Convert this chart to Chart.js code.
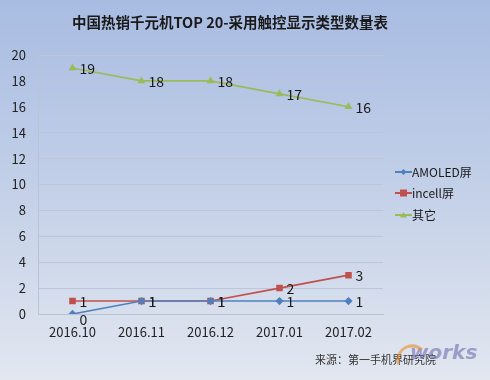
<!DOCTYPE html>
<html><head><meta charset="utf-8">
<script src="https://cdn.jsdelivr.net/npm/chart.js@4/dist/chart.umd.min.js"></script>
<style>
html,body{margin:0;padding:0;}
#wrap{width:490px;height:380px;background:linear-gradient(to bottom,#a8bce2 0%,#c3d0e8 50%,#e2e7f0 100%);position:relative;}
canvas{display:block;}
</style></head><body>
<div id="wrap"><canvas id="c" width="490" height="380"></canvas></div>
<script>
const categories = ['2016.10','2016.11','2016.12','2017.01','2017.02'];
const amoled = [0,1,1,1,1];
const incell = [1,1,1,2,3];
const others = [19,18,18,17,16];
const seriesNames = ['AMOLED屏','incell屏','其它'];
const yTicks = [0,2,4,6,8,10,12,14,16,18,20];
const titleText = '中国热销千元机TOP 20-采用触控显示类型数量表';
const sourceText = '来源：第一手机界研究院';
const FONT = '"Noto Sans CJK SC", "Noto Sans", sans-serif';

const labelPlugin = {
  id:'labels',
  afterDatasetsDraw(chart){
    const ctx = chart.ctx;
    ctx.save();
    // title
    ctx.font = 'bold 14.5px ' + FONT;
    ctx.fillStyle = '#1a1a1a';
    ctx.textAlign = 'center';
    ctx.textBaseline = 'middle';
    ctx.fillText(titleText, 230, 22);
    // data labels
    ctx.font = '14px ' + FONT;
    ctx.textAlign = 'left';
    chart.data.datasets.forEach((ds,i)=>{
      const meta = chart.getDatasetMeta(i);
      meta.data.forEach((pt,j)=>{
        let dy = 1;
        if (ds.data[j] === 0) dy = 6;
        ctx.fillText(String(ds.data[j]), pt.x + 7, pt.y + dy);
      });
    });
    // legend
    const lx = 395, ly = [172,193,215];
    chart.data.datasets.forEach((ds,i)=>{
      const y = ly[i];
      ctx.strokeStyle = ds.borderColor; ctx.lineWidth = 2;
      ctx.beginPath(); ctx.moveTo(lx, y); ctx.lineTo(lx+17, y); ctx.stroke();
      ctx.fillStyle = ds.borderColor;
      const cx = lx+8.5;
      ctx.beginPath();
      if (ds.pointStyle==='rectRot'){ctx.moveTo(cx,y-3);ctx.lineTo(cx+3,y);ctx.lineTo(cx,y+3);ctx.lineTo(cx-3,y);}
      else if (ds.pointStyle==='rect'){ctx.rect(cx-3.5,y-3.5,7,7);}
      else {ctx.moveTo(cx,y-3);ctx.lineTo(cx+3.5,y+2.5);ctx.lineTo(cx-3.5,y+2.5);}
      ctx.closePath(); ctx.fill();
      ctx.fillStyle = '#1a1a1a';
      ctx.font = '12px ' + FONT;
      ctx.fillText(ds.label, lx+17, y);
    });
    // source
    ctx.font = '11px ' + FONT;
    ctx.fillStyle = '#333';
    ctx.fillText(sourceText, 315, 360);
    // watermark
    ctx.font = 'italic bold 20px "DejaVu Sans", sans-serif';
    ctx.fillStyle = 'rgba(100,100,170,0.55)';
    ctx.fillText('works', 410, 354);
    ctx.strokeStyle = 'rgba(235,140,40,0.6)';
    ctx.lineWidth = 3;
    ctx.beginPath(); ctx.arc(412, 360, 14, Math.PI*0.9, Math.PI*1.75); ctx.stroke();
    ctx.restore();
  }
};

new Chart(document.getElementById('c'), {
  type:'line',
  data:{
    labels: categories,
    datasets:[
      {label:seriesNames[0], data:amoled, borderColor:'#4f81bd', backgroundColor:'#4f81bd', pointStyle:'rectRot', pointRadius:3, borderWidth:1.6, tension:0},
      {label:seriesNames[1], data:incell, borderColor:'#c0504d', backgroundColor:'#c0504d', pointStyle:'rect', pointRadius:3.5, borderWidth:1.6, tension:0},
      {label:seriesNames[2], data:others, borderColor:'#9bbb59', backgroundColor:'#9bbb59', pointStyle:'triangle', pointRadius:3, borderWidth:1.6, tension:0}
    ]
  },
  options:{
    responsive:false, animation:false,
    layout:{padding:{left:0,right:107,top:55,bottom:0}},
    plugins:{
      legend:{display:false},
      tooltip:{enabled:false},
      title:{display:false}
    },
    scales:{
      x:{
        offset:true,
        grid:{display:false,drawTicks:false},
        border:{display:true,color:'#b9c3d6'},
        ticks:{color:'#222',font:{family:FONT,size:13},padding:10,maxRotation:0},
        afterFit(s){s.height=66;}
      },
      y:{
        min:0,max:20,
        afterBuildTicks(s){s.ticks = yTicks.map(v=>({value:v}));},
        grid:{color:'#bcc6d8',drawTicks:false},
        border:{display:true,color:'#b9c3d6'},
        ticks:{color:'#222',font:{family:FONT,size:13},padding:12},
        afterFit(s){s.width=38;}
      }
    }
  },
  plugins:[labelPlugin]
});
</script>
</body></html>
